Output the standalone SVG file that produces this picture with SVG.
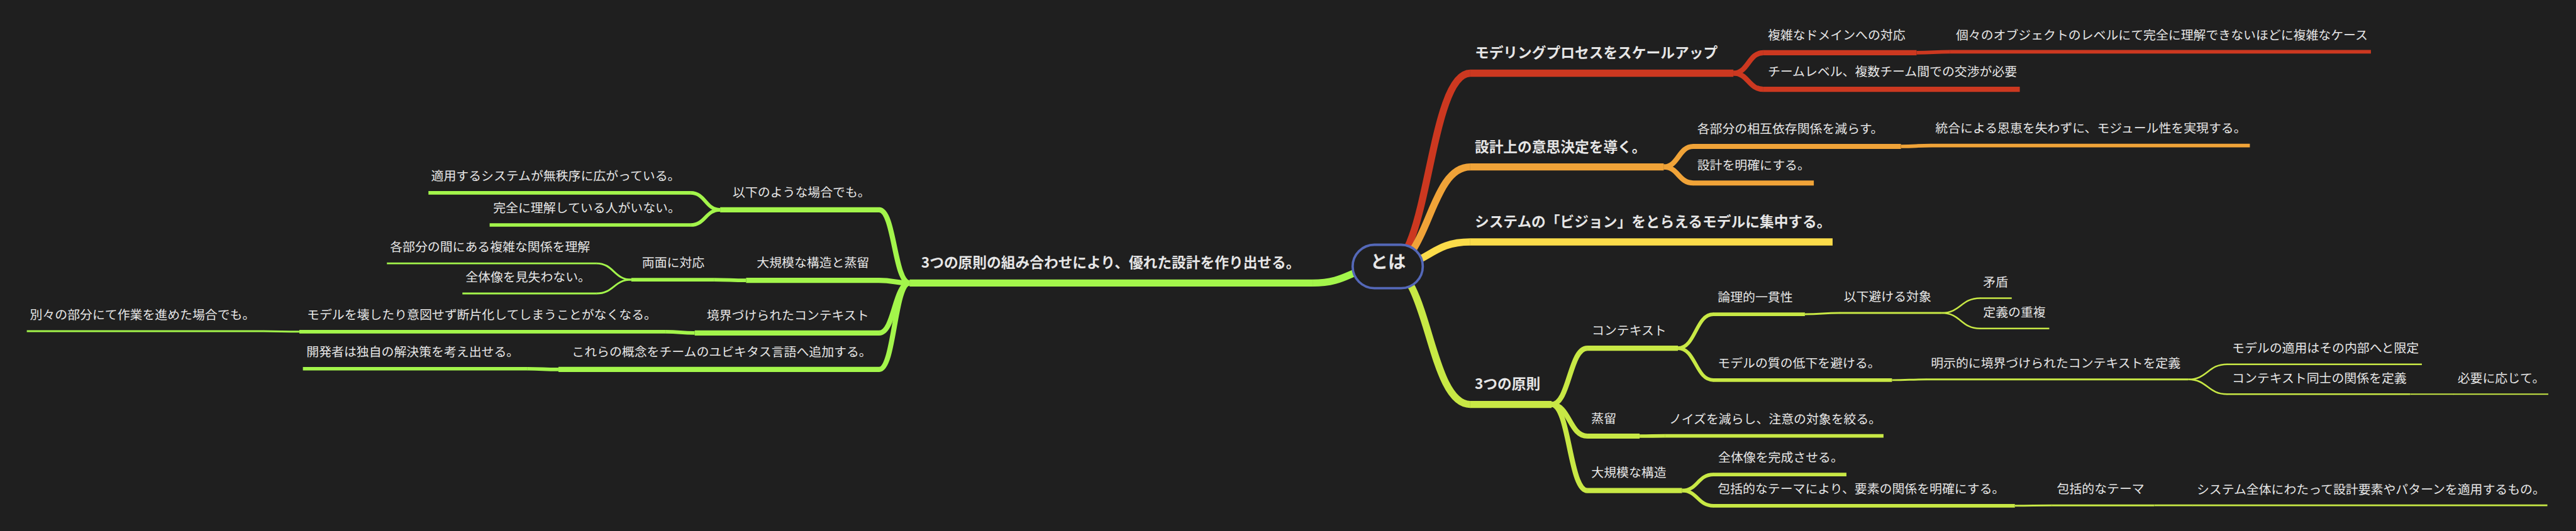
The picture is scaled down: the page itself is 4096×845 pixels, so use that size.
<svg xmlns="http://www.w3.org/2000/svg" width="4096" height="845" viewBox="0 0 4096 845">
<style>
text{font-family:"Noto Sans CJK JP","Noto Sans",sans-serif;fill:#e6e6e6;font-size:28px}
.t1{font-size:32px;font-weight:700}
.tc{font-size:40px;font-weight:700}
path,line{fill:none;stroke-linecap:butt}
.w1{stroke-width:16}.w2{stroke-width:11.5}.w3{stroke-width:8}.w4{stroke-width:4.2}.w5{stroke-width:3.6}.w6{stroke-width:3}
.cr{stroke:#cc3820}.co{stroke:#f0a338}.cy{stroke:#fbdc4a}.cl{stroke:#c8e845}.cg{stroke:#a3f54b}
</style>
<rect width="4096" height="845" fill="#1f1f1f"/>
<g transform="scale(0.71037)">
<g id="connectors">
<path class="cr w1" d="M3106 597C3198.5 597 3198.5 164 3291 164"/>
<path class="cr w2" d="M3880 164C3913.5 164 3913.5 118 3947 118"/>
<path class="cr w3" d="M4290 118C4327.5 118 4327.5 116 4365 116"/>
<path class="cr w2" d="M3880 164C3913.5 164 3913.5 200 3947 200"/>
<path class="co w1" d="M3106 597C3198.5 597 3198.5 374 3291 374"/>
<path class="co w2" d="M3724 374C3757 374 3757 328 3790 328"/>
<path class="co w3" d="M4255 328C4288.5 328 4288.5 326 4322 326"/>
<path class="co w2" d="M3724 374C3757 374 3757 410 3790 410"/>
<path class="cy w1" d="M3106 597C3198.5 597 3198.5 542 3291 542"/>
<path class="cl w1" d="M3106 597C3198.5 597 3198.5 906 3291 906"/>
<path class="cl w2" d="M3473 906C3513 906 3513 780 3553 780"/>
<path class="cl w3" d="M3756 780C3795.5 780 3795.5 704 3835 704"/>
<path class="cl w4" d="M4040 704C4079 704 4079 701 4118 701"/>
<path class="cl w5" d="M4346 701C4389 701 4389 668 4432 668"/>
<path class="cl w5" d="M4346 701C4389 701 4389 736 4432 736"/>
<path class="cl w3" d="M3756 780C3795.5 780 3795.5 851.5 3835 851.5"/>
<path class="cl w4" d="M4235 851.5C4273.5 851.5 4273.5 850 4312 850"/>
<path class="cl w5" d="M4898 850C4941.5 850 4941.5 816 4985 816"/>
<path class="cl w5" d="M4898 850C4941.5 850 4941.5 883 4985 883"/>
<path class="cl w6" d="M5395 883L5492 883"/>
<path class="cl w2" d="M3473 906C3513 906 3513 977 3553 977"/>
<path class="cl w3" d="M3670 977C3698.5 977 3698.5 976.5 3727 976.5"/>
<path class="cl w2" d="M3473 906C3513 906 3513 1099 3553 1099"/>
<path class="cl w3" d="M3765 1099C3800 1099 3800 1063 3835 1063"/>
<path class="cl w3" d="M3765 1099C3800 1099 3800 1133 3835 1133"/>
<path class="cl w4" d="M4510 1133C4551.5 1133 4551.5 1132 4593 1132"/>
<path class="cl w5" d="M4822 1132L4908 1132"/>
<path class="cg w1" d="M3106 597C3022 597 3022 634 2938 634"/>
<path class="cg w2" d="M2036 634C2002 634 2002 470 1968 470"/>
<path class="cg w3" d="M1612 470C1579 470 1579 432 1546 432"/>
<path class="cg w3" d="M1612 470C1579 470 1579 504 1546 504"/>
<path class="cg w2" d="M2036 634C2002 634 2002 628 1968 628"/>
<path class="cg w3" d="M1670 628C1634 628 1634 626.5 1598 626.5"/>
<path class="cg w4" d="M1413 626.5C1374 626.5 1374 590 1335 590"/>
<path class="cg w4" d="M1413 626.5C1374 626.5 1374 657.5 1335 657.5"/>
<path class="cg w2" d="M2036 634C2002 634 2002 746 1968 746"/>
<path class="cg w3" d="M1555 746C1522.5 746 1522.5 743 1490 743"/>
<path class="cg w4" d="M670 743C630 743 630 742 590 742"/>
<path class="cg w2" d="M2036 634C2002 634 2002 827.5 1968 827.5"/>
<path class="cg w3" d="M1250 827.5C1215 827.5 1215 826 1180 826"/>
</g>
<g id="n-r1"><line class="cr w1" x1="3290.5" y1="164" x2="3880" y2="164"/><text class="t1" x="3301" y="130">モデリングプロセスをスケールアップ</text></g>
<g id="n-r1a"><line class="cr w2" x1="3946.5" y1="118" x2="4290" y2="118"/><text x="3957" y="88">複雑なドメインへの対応</text></g>
<g id="n-r1a1"><line class="cr w3" x1="4364.5" y1="116" x2="5307" y2="116"/><text x="4378" y="88">個々のオブジェクトのレベルにて完全に理解できないほどに複雑なケース</text></g>
<g id="n-r1b"><line class="cr w2" x1="3946.5" y1="200" x2="4521" y2="200"/><text x="3957" y="170">チームレベル、複数チーム間での交渉が必要</text></g>
<g id="n-o1"><line class="co w1" x1="3290.5" y1="374" x2="3724" y2="374"/><text class="t1" x="3301" y="340">設計上の意思決定を導く。</text></g>
<g id="n-o1a"><line class="co w2" x1="3789.5" y1="328" x2="4255" y2="328"/><text x="3799" y="298">各部分の相互依存関係を減らす。</text></g>
<g id="n-o1a1"><line class="co w3" x1="4321.5" y1="326" x2="5036" y2="326"/><text x="4332" y="297.7">統合による恩恵を失わずに、モジュール性を実現する。</text></g>
<g id="n-o1b"><line class="co w2" x1="3789.5" y1="410" x2="4060" y2="410"/><text x="3799" y="380">設計を明確にする。</text></g>
<g id="n-y1"><line class="cy w1" x1="3290.5" y1="542" x2="4102" y2="542"/><text class="t1" x="3301" y="508">システムの「ビジョン」をとらえるモデルに集中する。</text></g>
<g id="n-g1"><line class="cl w1" x1="3290.5" y1="906" x2="3473" y2="906"/><text class="t1" x="3301" y="872">3つの原則</text></g>
<g id="n-g1a"><line class="cl w2" x1="3552.5" y1="780" x2="3756" y2="780"/><text x="3563" y="750">コンテキスト</text></g>
<g id="n-g1a1"><line class="cl w3" x1="3834.5" y1="704" x2="4040" y2="704"/><text x="3845" y="675.7">論理的一貫性</text></g>
<g id="n-g1a1a"><line class="cl w4" x1="4117.5" y1="701" x2="4346" y2="701"/><text x="4127" y="674.5">以下避ける対象</text></g>
<g id="n-g1a1a1"><line class="cl w5" x1="4431.5" y1="668" x2="4503" y2="668"/><text x="4439" y="642">矛盾</text></g>
<g id="n-g1a1a2"><line class="cl w5" x1="4431.5" y1="736" x2="4587" y2="736"/><text x="4439" y="710">定義の重複</text></g>
<g id="n-g1a2"><line class="cl w3" x1="3834.5" y1="851.5" x2="4235" y2="851.5"/><text x="3845" y="823.2">モデルの質の低下を避ける。</text></g>
<g id="n-g1a2a"><line class="cl w4" x1="4311.5" y1="850" x2="4898" y2="850"/><text x="4322" y="823.5">明示的に境界づけられたコンテキストを定義</text></g>
<g id="n-g1a2a1"><line class="cl w5" x1="4984.5" y1="816" x2="5421" y2="816"/><text x="4996" y="790">モデルの適用はその内部へと限定</text></g>
<g id="n-g1a2a2"><line class="cl w5" x1="4984.5" y1="883" x2="5395" y2="883"/><text x="4996" y="857">コンテキスト同士の関係を定義</text></g>
<g id="n-g1a2a2a"><line class="cl w6" x1="5491.5" y1="883" x2="5704" y2="883"/><text x="5501" y="857.2">必要に応じて。</text></g>
<g id="n-g1b"><line class="cl w2" x1="3552.5" y1="977" x2="3670" y2="977"/><text x="3562" y="947">蒸留</text></g>
<g id="n-g1b1"><line class="cl w3" x1="3726.5" y1="976.5" x2="4216" y2="976.5"/><text x="3736" y="948.2">ノイズを減らし、注意の対象を絞る。</text></g>
<g id="n-g1c"><line class="cl w2" x1="3552.5" y1="1099" x2="3765" y2="1099"/><text x="3562" y="1069">大規模な構造</text></g>
<g id="n-g1c1"><line class="cl w3" x1="3834.5" y1="1063" x2="4133" y2="1063"/><text x="3846" y="1034.7">全体像を完成させる。</text></g>
<g id="n-g1c2"><line class="cl w3" x1="3834.5" y1="1133" x2="4510" y2="1133"/><text x="3845" y="1104.7">包括的なテーマにより、要素の関係を明確にする。</text></g>
<g id="n-g1c2a"><line class="cl w4" x1="4592.5" y1="1132" x2="4822" y2="1132"/><text x="4604" y="1105.5">包括的なテーマ</text></g>
<g id="n-g1c2a1"><line class="cl w5" x1="4907.5" y1="1132" x2="5702" y2="1132"/><text x="4917" y="1106">システム全体にわたって設計要素やパターンを適用するもの。</text></g>
<g id="n-l1"><line class="cg w1" x1="2036" y1="634" x2="2938.5" y2="634"/><text class="t1" x="2062" y="600">3つの原則の組み合わせにより、優れた設計を作り出せる。</text></g>
<g id="n-la"><line class="cg w2" x1="1612" y1="470" x2="1968.5" y2="470"/><text x="1640" y="440">以下のような場合でも。</text></g>
<g id="n-la1"><line class="cg w3" x1="959" y1="432" x2="1546.5" y2="432"/><text x="965" y="403.7">適用するシステムが無秩序に広がっている。</text></g>
<g id="n-la2"><line class="cg w3" x1="1096" y1="504" x2="1546.5" y2="504"/><text x="1104" y="475.7">完全に理解している人がいない。</text></g>
<g id="n-lb"><line class="cg w2" x1="1670" y1="628" x2="1968.5" y2="628"/><text x="1694" y="598">大規模な構造と蒸留</text></g>
<g id="n-lb1"><line class="cg w3" x1="1413" y1="626.5" x2="1598.5" y2="626.5"/><text x="1437" y="598.2">両面に対応</text></g>
<g id="n-lb1a"><line class="cg w4" x1="866" y1="590" x2="1335.5" y2="590"/><text x="873" y="563.5">各部分の間にある複雑な関係を理解</text></g>
<g id="n-lb1b"><line class="cg w4" x1="1035" y1="657.5" x2="1335.5" y2="657.5"/><text x="1042" y="631">全体像を見失わない。</text></g>
<g id="n-lc"><line class="cg w2" x1="1555" y1="746" x2="1968.5" y2="746"/><text x="1582" y="716">境界づけられたコンテキスト</text></g>
<g id="n-lc1"><line class="cg w3" x1="670" y1="743" x2="1490.5" y2="743"/><text x="687" y="714.7">モデルを壊したり意図せず断片化してしまうことがなくなる。</text></g>
<g id="n-lc1a"><line class="cg w4" x1="60" y1="742" x2="590.5" y2="742"/><text x="67" y="715.5">別々の部分にて作業を進めた場合でも。</text></g>
<g id="n-ld"><line class="cg w2" x1="1250" y1="827.5" x2="1968.5" y2="827.5"/><text x="1280" y="797.5">これらの概念をチームのユビキタス言語へ追加する。</text></g>
<g id="n-ld1"><line class="cg w3" x1="678" y1="826" x2="1180.5" y2="826"/><text x="686" y="797.7">開発者は独自の解決策を考え出せる。</text></g>
<g id="center"><rect x="3027.7" y="548.3" width="157" height="97.3" rx="48.6" fill="#1f1f1f" stroke="#5468b8" stroke-width="5.3"/><text class="tc" x="3107" y="601" text-anchor="middle">とは</text></g>
</g>
</svg>
